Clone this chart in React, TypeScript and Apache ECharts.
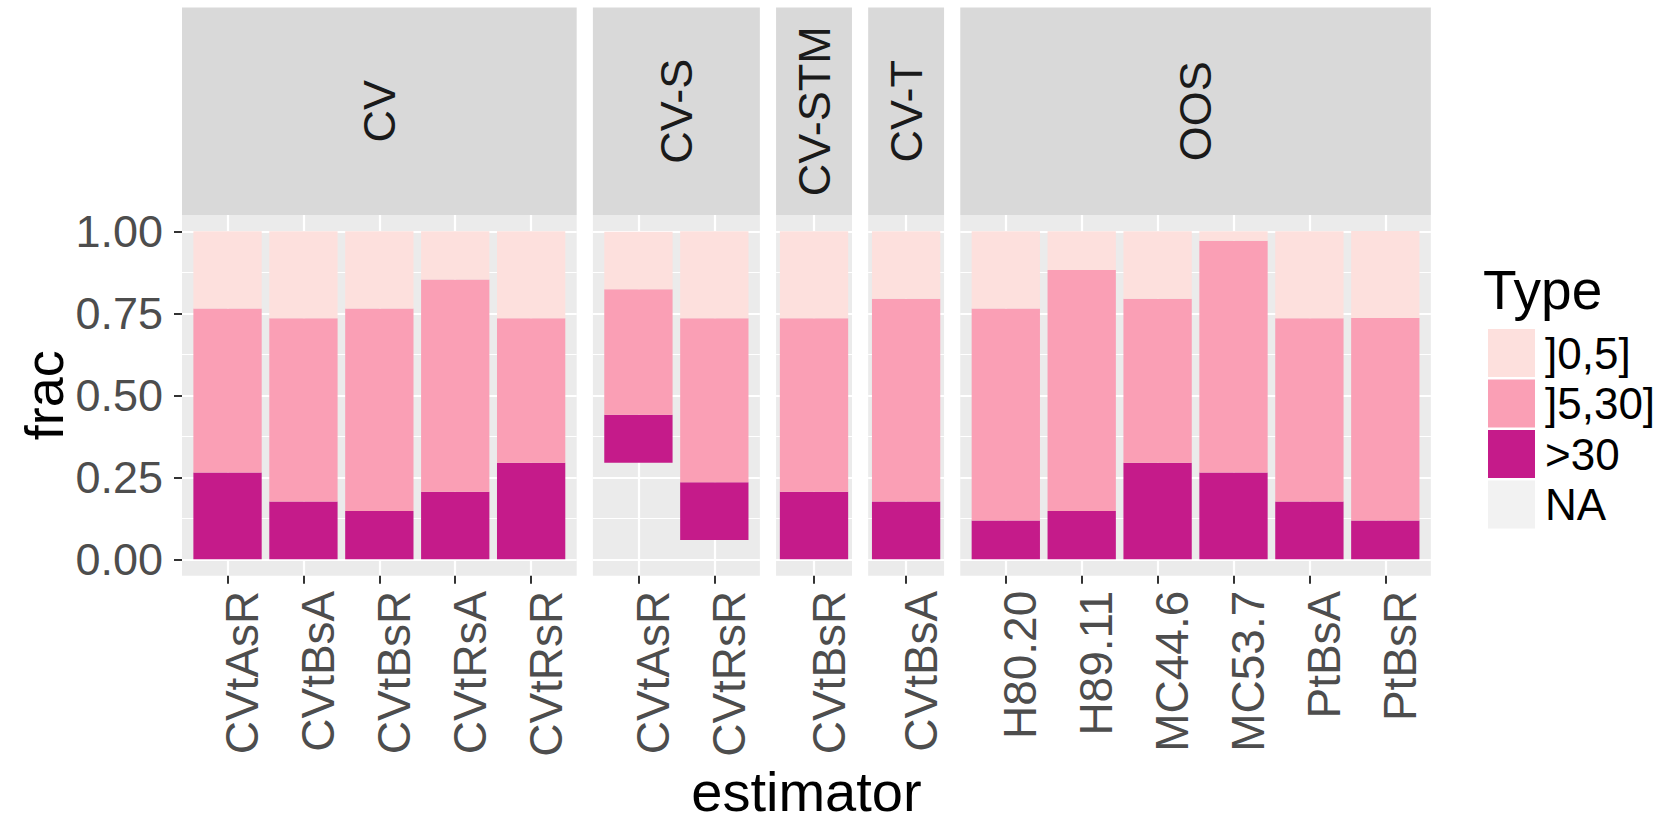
import React, { useEffect, useRef } from 'react';
import * as echarts from 'echarts';

// ---------------- data ----------------
const panels = ['CV', 'CV-S', 'CV-STM', 'CV-T', 'OOS'];
const panelEstimators = [
  ['CVtAsR', 'CVtBsA', 'CVtBsR', 'CVtRsA', 'CVtRsR'],
  ['CVtAsR', 'CVtRsR'],
  ['CVtBsR'],
  ['CVtBsA'],
  ['H80.20', 'H89.11', 'MC44.6', 'MC53.7', 'PtBsA', 'PtBsR'],
];
// legend order (top of stack first)
const typeLabels = [']0,5]', ']5,30]', '>30', 'NA'];
const typeColors = ['#FDE0DD', '#FA9FB5', '#C51B8A', '#F2F2F2'];

// fractions per bar, in the order of panelEstimators flattened
const frac0to5 = [0.235, 0.265, 0.235, 0.147, 0.265, 0.176, 0.265, 0.265, 0.206, 0.235, 0.118, 0.206, 0.029, 0.265, 0.265];
const frac5to30 = [0.5, 0.559, 0.618, 0.647, 0.441, 0.382, 0.5, 0.529, 0.618, 0.647, 0.735, 0.5, 0.706, 0.559, 0.618];
const fracOver30 = [0.265, 0.176, 0.147, 0.206, 0.294, 0.147, 0.176, 0.206, 0.176, 0.118, 0.147, 0.294, 0.265, 0.176, 0.118];
const fracNA = [0, 0, 0, 0, 0, 0.294, 0.059, 0, 0, 0, 0, 0, 0, 0, 0];

const yTicks = [0, 0.25, 0.5, 0.75, 1];
const yMinorTicks = [0.125, 0.375, 0.625, 0.875];

// ---------------- layout ----------------
const W = 1662;
const H = 826;
const FONT = 'Liberation Sans, Arial, Helvetica, sans-serif';
const PANEL_LEFT = 182;
const UNIT = 75.9;
const GAP = 16.2;
const PANEL_TOP = 214.9;
const PANEL_H = 360.8;
const STRIP_TOP = 7.5;

function buildOption() {
  const grids: any[] = [];
  const xAxes: any[] = [];
  const yAxes: any[] = [];
  const series: any[] = [];
  const graphics: any[] = [];

  // stacking order bottom -> top
  const stackOrder = [
    { label: 'NA', values: fracNA, color: 'rgba(0,0,0,0)' },
    { label: '>30', values: fracOver30, color: typeColors[2] },
    { label: ']5,30]', values: frac5to30, color: typeColors[1] },
    { label: ']0,5]', values: frac0to5, color: typeColors[0] },
  ];

  let x = PANEL_LEFT;
  let offset = 0;
  panels.forEach((p, i) => {
    const cats = panelEstimators[i];
    const n = cats.length;
    const pad = n === 1 ? 0.5 : 0.6;
    const w = (n - 1 + 2 * pad) * UNIT;
    const idx = cats.map((_, j) => j);

    grids.push({
      left: x,
      top: PANEL_TOP,
      width: w,
      height: PANEL_H,
      show: true,
      backgroundColor: '#EBEBEB',
      borderWidth: 0,
      containLabel: false,
    });

    xAxes.push({
      type: 'value',
      gridIndex: i,
      position: 'bottom',
      min: -pad,
      max: n - 1 + pad,
      axisLine: { show: false, onZero: false },
      axisTick: {
        show: true,
        length: 8,
        lineStyle: { color: '#333333', width: 2 },
        customValues: idx,
      },
      axisLabel: {
        show: true,
        customValues: idx,
        formatter: (v: number) => cats[Math.round(v)] ?? '',
        rotate: 90,
        fontSize: 46,
        color: '#4D4D4D',
        fontFamily: FONT,
        margin: 15,
        verticalAlign: 'top',
        lineHeight: 29,
      },
      splitLine: { show: true, lineStyle: { color: '#FFFFFF', width: 2.2 } },
    });

    const first = i === 0;
    yAxes.push({
      type: 'value',
      gridIndex: i,
      position: 'left',
      min: -0.05,
      max: 1.05,
      axisLine: { show: false, onZero: false },
      axisTick: {
        show: first,
        length: 8,
        lineStyle: { color: '#333333', width: 2 },
        customValues: yTicks,
      },
      axisLabel: {
        show: first,
        customValues: yTicks,
        formatter: (v: number) => v.toFixed(2),
        fontSize: 45,
        color: '#4D4D4D',
        fontFamily: FONT,
        margin: 19,
      },
      splitLine: { show: true, lineStyle: { color: '#FFFFFF', width: 2.2 } },
      name: first ? 'frac' : '',
      nameLocation: 'middle',
      nameGap: 111,
      nameTextStyle: { fontSize: 54, color: '#000000', fontFamily: FONT },
    });
    yAxes.push({
      type: 'value',
      gridIndex: i,
      position: 'left',
      min: -0.05,
      max: 1.05,
      axisLine: { show: false, onZero: false },
      axisTick: { show: false, customValues: yMinorTicks },
      axisLabel: { show: false },
      splitLine: { show: true, lineStyle: { color: '#FFFFFF', width: 1.1 } },
    });

    stackOrder.forEach((s) => {
      series.push({
        type: 'bar',
        name: s.label,
        xAxisIndex: i,
        yAxisIndex: 2 * i,
        stack: 'panel' + i,
        barWidth: 0.9 * UNIT,
        itemStyle: { color: s.color },
        emphasis: { disabled: true },
        // value first so that the value (y) dimension is the stacked one
        encode: { x: 1, y: 0 },
        data: idx.map((j) => [s.values[offset + j], j]),
      });
    });

    // facet strip
    graphics.push({
      type: 'rect',
      silent: true,
      shape: { x: x, y: STRIP_TOP, width: w, height: PANEL_TOP - STRIP_TOP },
      style: { fill: '#D9D9D9' },
    });
    graphics.push({
      type: 'text',
      silent: true,
      x: x + w / 2,
      y: (STRIP_TOP + PANEL_TOP) / 2,
      rotation: Math.PI / 2,
      style: {
        text: p,
        fontSize: 45,
        fontFamily: FONT,
        fill: '#1A1A1A',
        align: 'center',
        verticalAlign: 'middle',
      },
    });

    x += w + GAP;
    offset += n;
  });

  const panelRight = x - GAP;

  graphics.push({
    type: 'text',
    silent: true,
    x: (PANEL_LEFT + panelRight) / 2,
    y: 791,
    style: {
      text: 'estimator',
      fontSize: 56,
      fontFamily: FONT,
      fill: '#000000',
      align: 'center',
      verticalAlign: 'middle',
    },
  });
  graphics.push({
    type: 'text',
    silent: true,
    x: 1483,
    y: 290,
    style: {
      text: 'Type',
      fontSize: 55,
      fontFamily: FONT,
      fill: '#000000',
      align: 'left',
      verticalAlign: 'middle',
    },
  });

  return {
    animation: false,
    backgroundColor: '#FFFFFF',
    textStyle: { fontFamily: FONT },
    grid: grids,
    xAxis: xAxes,
    yAxis: yAxes,
    series,
    graphic: graphics,
    legend: {
      show: true,
      orient: 'vertical',
      left: 1483,
      top: 324,
      itemWidth: 47,
      itemHeight: 48,
      itemGap: 2.5,
      icon: 'rect',
      selectedMode: false,
      textStyle: { fontSize: 44, color: '#000000', fontFamily: FONT, padding: [0, 0, 0, 5] },
      data: typeLabels.map((t, k) => ({ name: t, itemStyle: { color: typeColors[k], borderWidth: 0 } })),
    },
  };
}

export default function App() {
  const ref = useRef<HTMLDivElement | null>(null);
  useEffect(() => {
    if (!ref.current) return;
    const chart = echarts.init(ref.current, undefined, { renderer: 'svg' });
    chart.setOption(buildOption() as any);
    return () => {
      chart.dispose();
    };
  }, []);
  return (
    <div
      ref={ref}
      style={{ position: 'fixed', left: 0, top: 0, width: W, height: H, background: '#FFFFFF' }}
    />
  );
}
